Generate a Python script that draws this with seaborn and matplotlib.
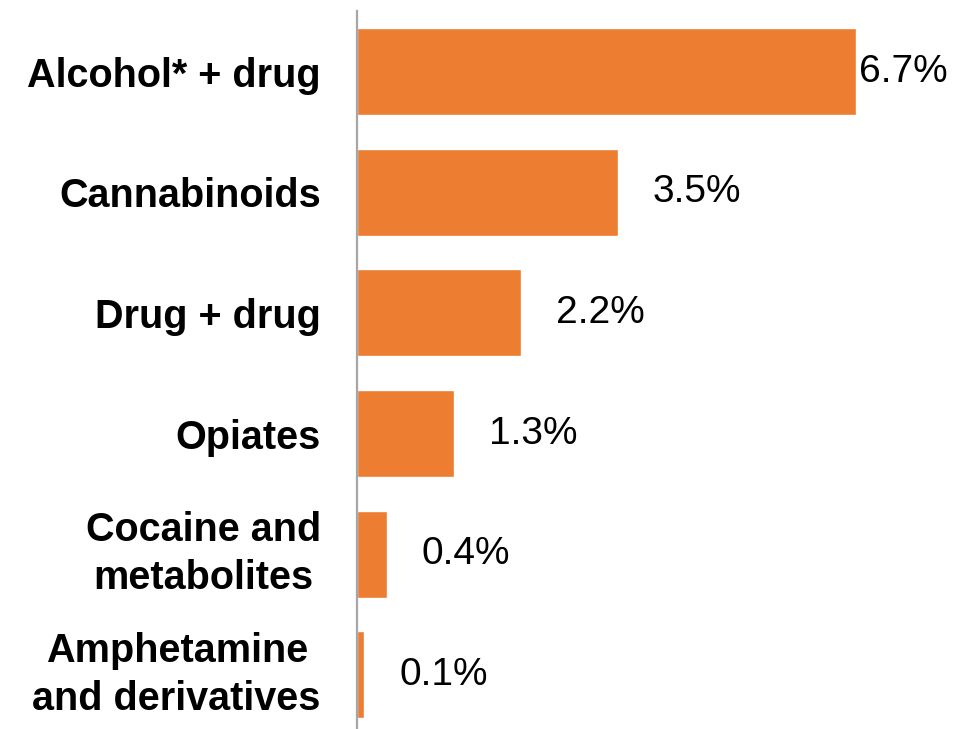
import seaborn as sns
import pandas as pd
import matplotlib.pyplot as plt

sns.set_style("white")
plt.rcParams["font.family"] = ["Liberation Sans", "DejaVu Sans"]

# Data
categories = ["Alcohol* + drug", "Cannabinoids", "Drug + drug", "Opiates",
              "Cocaine and\nmetabolites", "Amphetamine\nand derivatives"]
values = [6.7, 3.5, 2.2, 1.3, 0.4, 0.1]
value_labels = ["6.7%", "3.5%", "2.2%", "1.3%", "0.4%", "0.1%"]

df = pd.DataFrame({"category": categories, "value": values})

fig = plt.figure(figsize=(9.57, 7.29), dpi=100)
ax = fig.add_axes([0.373, -0.0085, 0.627, 0.993])

sns.barplot(data=df, x="value", y="category", orient="h", color="#ED7D31",
            saturation=1, width=0.72, ax=ax)

ax.set_xlim(0, 8.05)
ax.set_ylim(5.5, -0.5)
ax.set_xlabel("")
ax.set_ylabel("")
ax.set_xticks([])

for side in ["top", "right", "bottom"]:
    ax.spines[side].set_visible(False)
ax.spines["left"].set_color("#A6A6A6")
ax.spines["left"].set_linewidth(1.6)

ax.tick_params(axis="y", length=0, pad=26)
for lbl in ax.get_yticklabels():
    lbl.set_fontsize(28.5)
    lbl.set_fontweight("bold")
    lbl.set_color("black")
    lbl.set_multialignment("center")
    lbl.set_linespacing(1.35)
    if "\n" in lbl.get_text():
        lbl.set_verticalalignment("center")

# value labels; the largest sits tight against its bar
for i, (v, txt) in enumerate(zip(values, value_labels)):
    pad = 2 if i == 0 else 25
    ax.annotate(txt, xy=(v, i), xytext=(pad, 0), textcoords="offset points",
                ha="left", va="center", fontsize=28, color="black")

fig.savefig("out.png", dpi=100)
